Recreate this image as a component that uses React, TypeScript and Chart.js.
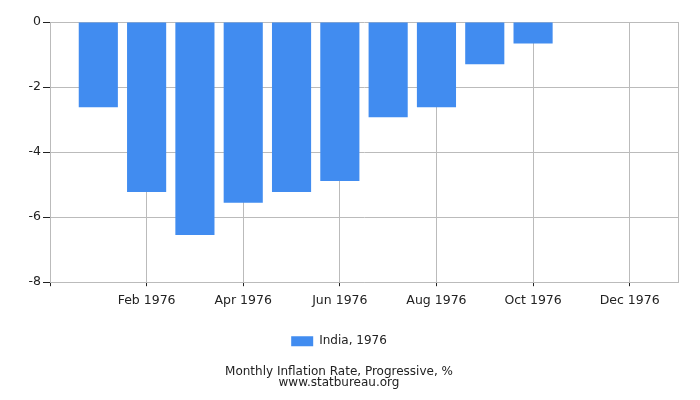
import React, { useEffect, useRef } from "react";
import { Chart, registerables } from "chart.js";

Chart.register(...registerables);

const months: string[] = [
  "Dec 1975", "Jan 1976", "Feb 1976", "Mar 1976", "Apr 1976", "May 1976", "Jun 1976",
  "Jul 1976", "Aug 1976", "Sep 1976", "Oct 1976", "Nov 1976", "Dec 1976", "Jan 1977",
];
const shownLabels: string[] = ["Feb 1976", "Apr 1976", "Jun 1976", "Aug 1976", "Oct 1976", "Dec 1976"];
const indiaValues: (number | null)[] = [
  null, -2.62, -5.23, -6.55, -5.56, -5.23, -4.89, -2.93, -2.62, -1.3, -0.66, null, null, null,
];
const seriesLabel = "India, 1976";
const titleLines: string[] = ["Monthly Inflation Rate, Progressive, %", "www.statbureau.org"];

const FONT = "'DejaVu Sans', sans-serif";
const GRID = "#bbbbbb";
const TEXT = "#222222";

export default function App() {
  const ref = useRef<HTMLCanvasElement | null>(null);
  useEffect(() => {
    if (!ref.current) return;
    const chart = new Chart(ref.current, {
      type: "bar",
      data: {
        labels: months,
        datasets: [
          {
            label: seriesLabel,
            data: indiaValues,
            backgroundColor: "#418cf0",
            borderWidth: 0,
            categoryPercentage: 1,
            barPercentage: 0.81,
          },
        ],
      },
      options: {
        animation: false,
        responsive: false,
        maintainAspectRatio: false,
        layout: { padding: { left: 0, right: 22, top: 22, bottom: 11 } },
        scales: {
          x: {
            offset: false,
            border: { color: GRID },
            grid: {
              offset: false,
              color: (ctx: any) => {
                const i = ctx.index;
                const l = months[i];
                return shownLabels.includes(l) || i === 0 || i === months.length - 1 ? GRID : "rgba(0,0,0,0)";
              },
              tickColor: (ctx: any) => {
                const i = ctx.index;
                const l = months[i];
                return shownLabels.includes(l) || i === 0 ? TEXT : "rgba(0,0,0,0)";
              },
              tickLength: 4,
            },
            ticks: {
              autoSkip: false,
              maxRotation: 0,
              padding: 7,
              color: TEXT,
              font: { family: FONT, size: 12.5 },
              callback: (_v: any, i: number) => (shownLabels.includes(months[i]) ? months[i] : ""),
            },
          },
          y: {
            min: -8,
            max: 0,
            border: { color: GRID },
            grid: { color: GRID, tickColor: TEXT, tickLength: 7 },
            afterFit: (s: any) => {
              s.width = 50;
            },
            ticks: {
              stepSize: 2,
              padding: 2,
              color: TEXT,
              font: { family: FONT, size: 12.5 },
            },
          },
        },
        plugins: {
          legend: {
            position: "bottom",
            labels: {
              boxWidth: 22,
              boxHeight: 10,
              color: TEXT,
              font: { family: FONT, size: 12 },
              padding: 20,
            },
          },
          title: {
            display: true,
            position: "bottom",
            text: titleLines,
            color: TEXT,
            font: { family: FONT, size: 12, weight: "normal", lineHeight: 0.95 },
            padding: { top: 9, bottom: 0 },
          },
          tooltip: { enabled: false },
        },
      },
    });
    return () => chart.destroy();
  }, []);
  return (
    <div style={{ position: "fixed", left: 0, top: 0, width: 700, height: 400, background: "#fff" }}>
      <canvas ref={ref} width={700} height={400} style={{ width: 700, height: 400 }} />
    </div>
  );
}
